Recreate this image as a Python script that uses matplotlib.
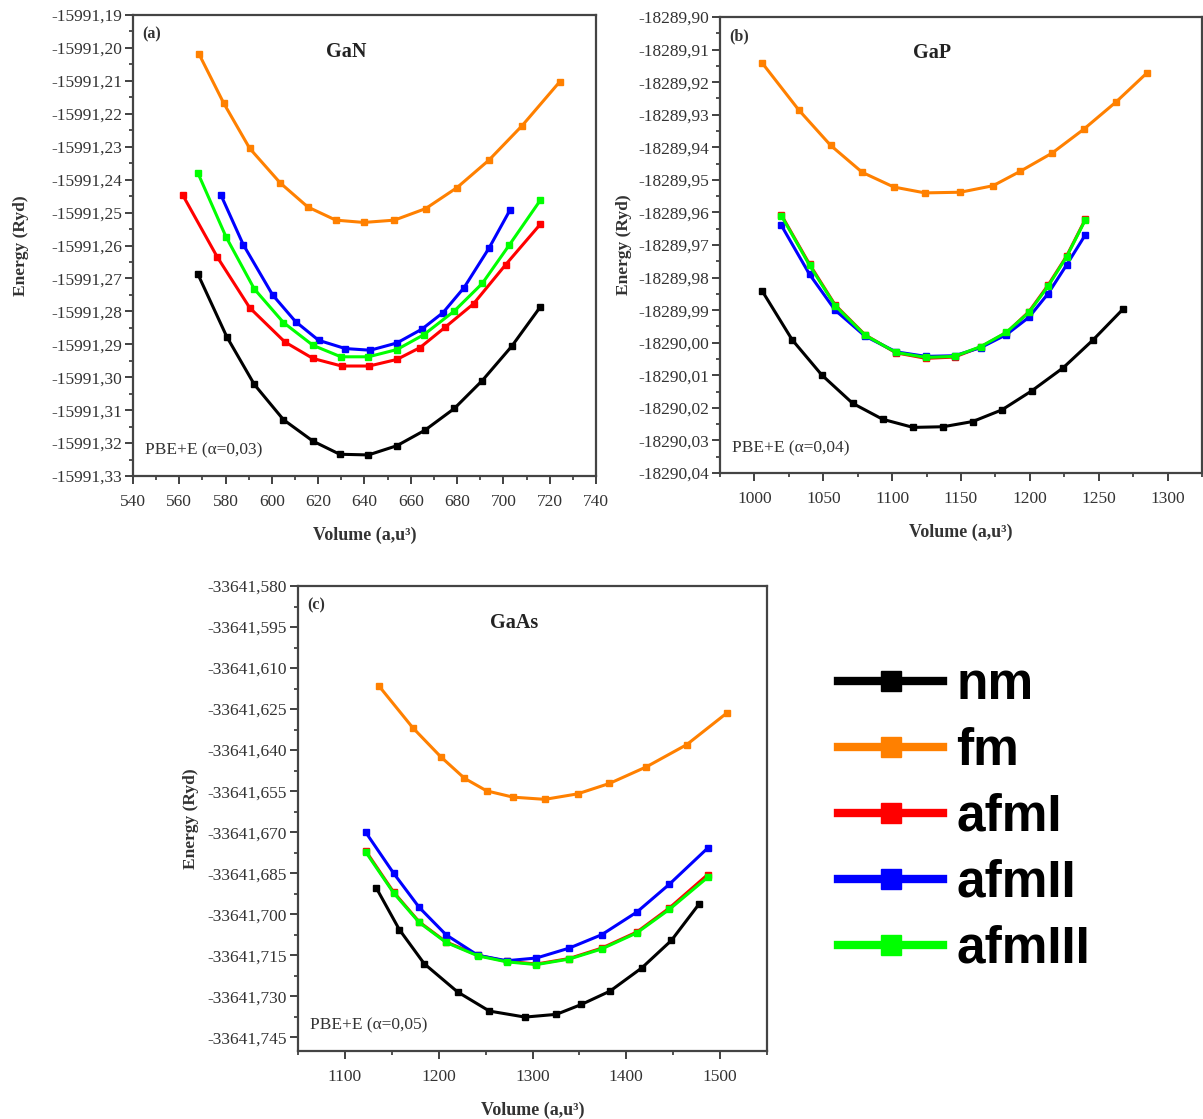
import matplotlib
matplotlib.use("Agg")
import matplotlib.pyplot as plt
from matplotlib.ticker import MultipleLocator, FuncFormatter
from matplotlib.lines import Line2D

# ---------------- data ----------------
series_names = ["nm", "fm", "afmI", "afmII", "afmIII"]
series_colors = ["#000000", "#FF8000", "#FF0000", "#0000FF", "#00FF00"]

# (a) GaN, PBE+E (alpha=0,03)
gan_nm_v = [568.1, 580.5, 592.4, 605.0, 617.7, 629.3, 641.7, 654.0, 666.1, 678.8, 690.9, 703.6, 716.0]
gan_nm_e = [-15991.2688, -15991.2877, -15991.3022, -15991.3129, -15991.3194, -15991.3234, -15991.3236,
            -15991.3208, -15991.3161, -15991.3095, -15991.3010, -15991.2906, -15991.2786]
gan_fm_v = [568.4, 579.2, 590.4, 603.6, 615.5, 627.6, 639.7, 652.9, 666.4, 680.0, 693.7, 708.1, 724.3]
gan_fm_e = [-15991.2017, -15991.2168, -15991.2305, -15991.2410, -15991.2483, -15991.2523, -15991.2530,
            -15991.2523, -15991.2488, -15991.2424, -15991.2341, -15991.2236, -15991.2103]
gan_afm1_v = [561.5, 576.4, 590.4, 605.6, 617.7, 630.1, 642.0, 654.0, 664.0, 674.7, 687.1, 701.0, 716.0]
gan_afm1_e = [-15991.2447, -15991.2635, -15991.2789, -15991.2893, -15991.2943, -15991.2966, -15991.2966,
              -15991.2946, -15991.2910, -15991.2849, -15991.2777, -15991.2658, -15991.2535]
gan_afm2_v = [578.0, 587.6, 600.3, 610.2, 620.2, 631.7, 642.5, 654.0, 664.8, 673.9, 683.0, 693.7, 702.8]
gan_afm2_e = [-15991.2447, -15991.2597, -15991.2750, -15991.2831, -15991.2888, -15991.2913, -15991.2918,
              -15991.2896, -15991.2854, -15991.2804, -15991.2728, -15991.2609, -15991.2493]
gan_afm3_v = [568.1, 580.2, 592.4, 605.0, 617.7, 629.8, 641.7, 654.0, 665.6, 678.8, 690.9, 702.5, 716.0]
gan_afm3_e = [-15991.2381, -15991.2574, -15991.2732, -15991.2834, -15991.2903, -15991.2938, -15991.2938,
              -15991.2916, -15991.2871, -15991.2799, -15991.2715, -15991.2599, -15991.2462]

# (b) GaP, PBE+E (alpha=0,04)
gap_nm_v = [1005.6, 1027.4, 1048.9, 1071.3, 1093.1, 1115.2, 1137.0, 1158.5, 1179.8, 1201.3, 1224.2, 1246.0, 1267.6]
gap_nm_e = [-18289.9841, -18289.9991, -18290.0099, -18290.0186, -18290.0235, -18290.0260, -18290.0258,
            -18290.0242, -18290.0206, -18290.0148, -18290.0077, -18289.9991, -18289.9897]
gap_fm_v = [1005.6, 1032.1, 1055.3, 1078.3, 1101.2, 1123.8, 1149.5, 1173.3, 1192.9, 1216.1, 1239.0, 1262.8, 1285.2]
gap_fm_e = [-18289.9141, -18289.9285, -18289.9394, -18289.9477, -18289.9522, -18289.9540, -18289.9538,
            -18289.9518, -18289.9474, -18289.9418, -18289.9345, -18289.9260, -18289.9171]
gap_afm_v = [1019.6, 1040.0, 1058.6, 1080.4, 1102.8, 1124.6, 1145.3, 1164.3, 1183.0, 1199.3, 1213.3, 1226.7, 1240.4]
gap_afm1_e = [-18289.9608, -18289.9759, -18289.9884, -18289.9976, -18290.0031, -18290.0048, -18290.0044,
              -18290.0013, -18289.9969, -18289.9905, -18289.9823, -18289.9734, -18289.9620]
gap_afm2_e = [-18289.9640, -18289.9790, -18289.9900, -18289.9980, -18290.0028, -18290.0042, -18290.0040,
              -18290.0015, -18289.9975, -18289.9922, -18289.9849, -18289.9761, -18289.9668]
gap_afm3_e = [-18289.9610, -18289.9762, -18289.9886, -18289.9977, -18290.0030, -18290.0045, -18290.0042,
              -18290.0012, -18289.9968, -18289.9907, -18289.9826, -18289.9736, -18289.9622]

# (c) GaAs, PBE+E (alpha=0,05)
gaas_nm_v = [1133.5, 1158.0, 1184.6, 1220.1, 1254.0, 1292.0, 1325.5, 1352.0, 1382.7, 1416.6, 1448.0, 1477.5]
gaas_nm_e = [-33641.6904, -33641.7056, -33641.7181, -33641.7284, -33641.7354, -33641.7376,
             -33641.7366, -33641.7330, -33641.7281, -33641.7196, -33641.7096, -33641.6963]
gaas_fm_v = [1136.4, 1172.3, 1202.1, 1227.5, 1251.1, 1279.3, 1313.2, 1348.0, 1381.9, 1421.5, 1464.4, 1507.3]
gaas_fm_e = [-33641.6166, -33641.6318, -33641.6424, -33641.6503, -33641.6549, -33641.6572,
             -33641.6580, -33641.6560, -33641.6522, -33641.6461, -33641.6380, -33641.6264]
gaas_afm_v = [1122.1, 1151.9, 1179.2, 1207.8, 1241.7, 1272.4, 1304.2, 1339.0, 1373.7, 1411.3, 1446.0, 1486.8]
gaas_afm1_e = [-33641.6768, -33641.6919, -33641.7028, -33641.7101, -33641.7150, -33641.7172,
               -33641.7182, -33641.7162, -33641.7124, -33641.7065, -33641.6977, -33641.6855]
gaas_afm2_e = [-33641.6700, -33641.6850, -33641.6975, -33641.7075, -33641.7150, -33641.7170,
               -33641.7160, -33641.7124, -33641.7075, -33641.6992, -33641.6890, -33641.6758]
gaas_afm3_e = [-33641.6772, -33641.6922, -33641.7030, -33641.7103, -33641.7152, -33641.7174,
               -33641.7184, -33641.7164, -33641.7127, -33641.7068, -33641.6982, -33641.6865]

panels = [
    dict(tag="(a)", title="GaN", note="PBE+E (\u03b1=0,03)",
         series=[(gan_nm_v, gan_nm_e), (gan_fm_v, gan_fm_e), (gan_afm1_v, gan_afm1_e),
                 (gan_afm2_v, gan_afm2_e), (gan_afm3_v, gan_afm3_e)],
         xlim=(540, 740), ylim=(-15991.33, -15991.19), xmaj=20, xmin=10, ymaj=0.01, ymin=0.005, dec=2,
         rect=[133/1203, 1-476/1119, 463/1203, 461/1119], title_x=0.46, ylabelpad=16),
    dict(tag="(b)", title="GaP", note="PBE+E (\u03b1=0,04)",
         series=[(gap_nm_v, gap_nm_e), (gap_fm_v, gap_fm_e), (gap_afm_v, gap_afm1_e),
                 (gap_afm_v, gap_afm2_e), (gap_afm_v, gap_afm3_e)],
         xlim=(975, 1325), ylim=(-18290.04, -18289.90), xmaj=50, xmin=25, ymaj=0.01, ymin=0.005, dec=2,
         rect=[720/1203, 1-473/1119, 482/1203, 456/1119], title_x=0.44, ylabelpad=4),
    dict(tag="(c)", title="GaAs", note="PBE+E (\u03b1=0,05)",
         series=[(gaas_nm_v, gaas_nm_e), (gaas_fm_v, gaas_fm_e), (gaas_afm_v, gaas_afm1_e),
                 (gaas_afm_v, gaas_afm2_e), (gaas_afm_v, gaas_afm3_e)],
         xlim=(1050, 1550), ylim=(-33641.750, -33641.580), xmaj=100, xmin=50, ymaj=0.015, ymin=0.0075, dec=3,
         rect=[298/1203, 1-1051/1119, 469/1203, 465/1119], title_x=0.46, ylabelpad=6),
]

SERIF = ["Liberation Serif", "DejaVu Serif"]
plt.rcParams["font.family"] = SERIF

fig = plt.figure(figsize=(12.03, 11.19), dpi=100)

for p in panels:
    ax = fig.add_axes(p["rect"])
    for (v, e), name, col in zip(p["series"], series_names, series_colors):
        ax.plot(v, e, color=col, lw=2.2, marker="s", ms=5, label=name)
    ax.set_xlim(*p["xlim"])
    ax.set_ylim(*p["ylim"])
    ax.xaxis.set_major_locator(MultipleLocator(p["xmaj"]))
    ax.xaxis.set_minor_locator(MultipleLocator(p["xmin"]))
    ax.yaxis.set_major_locator(MultipleLocator(p["ymaj"]))
    ax.yaxis.set_minor_locator(MultipleLocator(p["ymin"]))
    d = p["dec"]
    ax.yaxis.set_major_formatter(FuncFormatter(lambda val, pos, d=d: f"{val:.{d}f}".replace(".", ",")))
    ax.xaxis.set_major_formatter(FuncFormatter(lambda val, pos: f"{val:.0f}"))
    ax.tick_params(which="major", direction="out", length=6, width=1.3, labelsize=12.5,
                   colors="#333333", labelcolor="#333333")
    ax.tick_params(axis="x", which="major", pad=7)
    ax.tick_params(axis="y", which="major", pad=2)
    ax.tick_params(which="minor", direction="out", length=3, width=1.2, colors="#333333")
    for s in ax.spines.values():
        s.set_linewidth(1.6)
        s.set_color("#444444")
    ax.set_xlabel("Volume (a,u\u00b3)", fontsize=13, fontweight="bold", color="#333333", labelpad=12)
    ax.set_ylabel("Energy (Ryd)", fontsize=12.5, fontweight="bold", color="#333333",
                  labelpad=p["ylabelpad"])
    ax.text(0.02, 0.975, p["tag"], transform=ax.transAxes, ha="left", va="top",
            fontsize=11.5, fontweight="bold", color="#333333")
    ax.text(p["title_x"], 0.92, p["title"], transform=ax.transAxes, ha="center", va="center",
            fontsize=14.5, fontweight="bold", color="#222222")
    ax.text(0.025, 0.055, p["note"], transform=ax.transAxes, ha="left", va="center",
            fontsize=12.5, color="#333333")

handles = [Line2D([], [], color=c, lw=6, marker="s", ms=14) for c in series_colors]
fig.legend(handles, series_names, loc="upper left", bbox_to_anchor=(838/1203, 1-661/1119),
           frameon=False, handlelength=2.05, handletextpad=0.25, labelspacing=0.33, borderpad=0,
           borderaxespad=0,
           prop={"family": ["Liberation Sans", "DejaVu Sans"], "weight": "bold", "size": 37})

fig.savefig("out.png", dpi=100)
